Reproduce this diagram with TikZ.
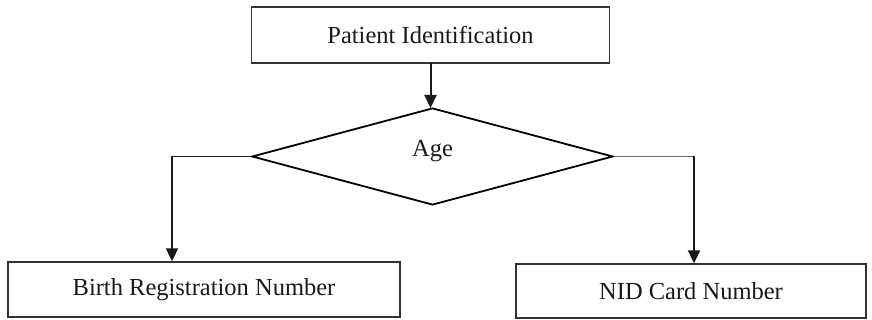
\documentclass[tikz,border=0pt]{standalone}
\usepackage{fontspec}
\setmainfont{Liberation Serif}
\usetikzlibrary{shapes.geometric,arrows.meta}
\begin{document}
\begin{tikzpicture}[x=1pt,y=-1pt,
  txt/.style={font=\fontsize{24.5}{27}\selectfont,text=black!90},
  box/.style={draw=black!80,line width=1.4pt,rectangle,inner sep=0pt},
  dec/.style={draw=black,line width=1.8pt,diamond,inner sep=0pt},
  arr/.style={-{Triangle[length=13pt,width=12pt]},line width=2pt,black!90},
  thin/.style={line width=0.9pt,black!85}]
\useasboundingbox (0,0) rectangle (872,320);
\node[box,txt,minimum width=358pt,minimum height=56pt] (pid) at (430.5,35) {Patient Identification};
\node[dec,minimum width=361pt,minimum height=97pt,aspect=3.72] (age) at (432.5,156.5) {};
\node[txt] (agel) at (432.5,151) {Age};
\node[box,txt,minimum width=392pt,minimum height=55pt] (brn) at (204,289.5) {Birth Registration Number};
\node[box,txt,minimum width=350pt,minimum height=54pt] (nid) at (691,291) {NID Card Number};
\coordinate (tc) at (430.5,63);
\coordinate (td) at (430.5,108);
\draw[arr] (tc) -- (td);
\coordinate (lc) at (172,156.5);
\coordinate (rc) at (694,156.5);
\draw[thin] (age.west) -- (lc);
\draw[arr] (lc) -- (lc |- brn.north);
\draw[thin,black!60] (age.east) -- (rc);
\draw[arr] (rc) -- (rc |- nid.north);
\end{tikzpicture}
\end{document}
